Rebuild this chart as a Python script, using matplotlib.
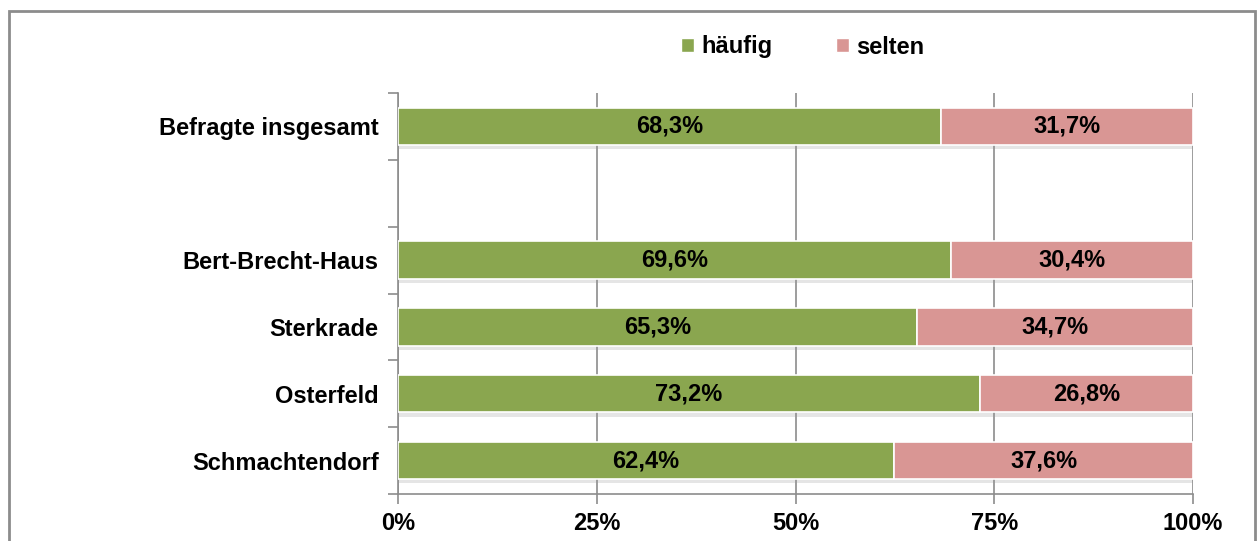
import matplotlib.pyplot as plt
import matplotlib as mpl
import matplotlib.patheffects as pe
from matplotlib.patches import Rectangle, Patch
import numpy as np

mpl.rcParams.update({
    "font.family": "sans-serif",
    "font.sans-serif": ["Liberation Sans", "DejaVu Sans"],
    "font.weight": "bold",
    "font.size": 17,
})

# data (top to bottom), empty string marks the blank slot
categories = ["Befragte insgesamt", "", "Bert-Brecht-Haus", "Sterkrade",
              "Osterfeld", "Schmachtendorf"]
haeufig = [68.3, None, 69.6, 65.3, 73.2, 62.4]
selten = [31.7, None, 30.4, 34.7, 26.8, 37.6]
xticks = [0, 25, 50, 75, 100]
xticklabels = ["0%", "25%", "50%", "75%", "100%"]

green = "#8AA64F"
pink = "#D99694"

fig = plt.figure(figsize=(12.57, 5.41), dpi=100)
ax = fig.add_axes([398 / 1257, 47 / 541, 795 / 1257, 401 / 541])

# outer frame of the chart area
fig.patches.append(Rectangle((9 / 1257, -0.05), 1246 / 1257, 1.05 - 11 / 541,
                             transform=fig.transFigure, fill=False,
                             edgecolor="#8c8c8c", linewidth=2))

n = len(categories)
ypos = np.arange(n)[::-1]
shadow = [pe.SimplePatchShadow(offset=(0, -3), shadow_rgbFace="#9a9a9a", alpha=0.25),
          pe.Normal()]

for i in range(n):
    if haeufig[i] is None:
        continue
    y = ypos[i]
    b1 = ax.barh(y, haeufig[i], height=0.56, color=green, edgecolor="white",
                 linewidth=1.2, zorder=3)
    b2 = ax.barh(y, selten[i], left=haeufig[i], height=0.56, color=pink,
                 edgecolor="white", linewidth=1.2, zorder=3)
    for b in list(b1) + list(b2):
        b.set_path_effects(shadow)
    ax.text(haeufig[i] / 2, y, f"{haeufig[i]:.1f}%".replace(".", ","),
            ha="center", va="center", zorder=4)
    ax.text(haeufig[i] + selten[i] / 2, y, f"{selten[i]:.1f}%".replace(".", ","),
            ha="center", va="center", zorder=4)

ax.set_xlim(0, 100)
ax.set_ylim(-0.5, n - 0.5)
ax.set_xticks(xticks)
ax.set_xticklabels(xticklabels)
ax.xaxis.grid(True, color="#8c8c8c", linewidth=1.2, zorder=0)
ax.set_axisbelow(True)

ax.set_yticks(ypos)
ax.set_yticklabels(categories)
ax.set_yticks(np.arange(-0.5, n), minor=True)
ax.tick_params(axis="y", which="major", length=0, pad=14)
ax.tick_params(axis="y", which="minor", length=7, color="#8c8c8c", width=1.2)
ax.tick_params(axis="x", length=7, color="#8c8c8c", width=1.2, pad=6)

for s in ["top", "right"]:
    ax.spines[s].set_visible(False)
for s in ["left", "bottom"]:
    ax.spines[s].set_color("#8c8c8c")
    ax.spines[s].set_linewidth(1.2)

handles = [Patch(facecolor=green, edgecolor="white", label="häufig"),
           Patch(facecolor=pink, edgecolor="white", label="selten")]
fig.legend(handles=handles, loc="center", bbox_to_anchor=(802.5 / 1257, 1 - 47 / 541),
           ncol=2, frameon=False, handlelength=0.55, handleheight=0.55,
           handletextpad=0.3, columnspacing=2.7, fontsize=17)

fig.savefig("out.png", dpi=100)
